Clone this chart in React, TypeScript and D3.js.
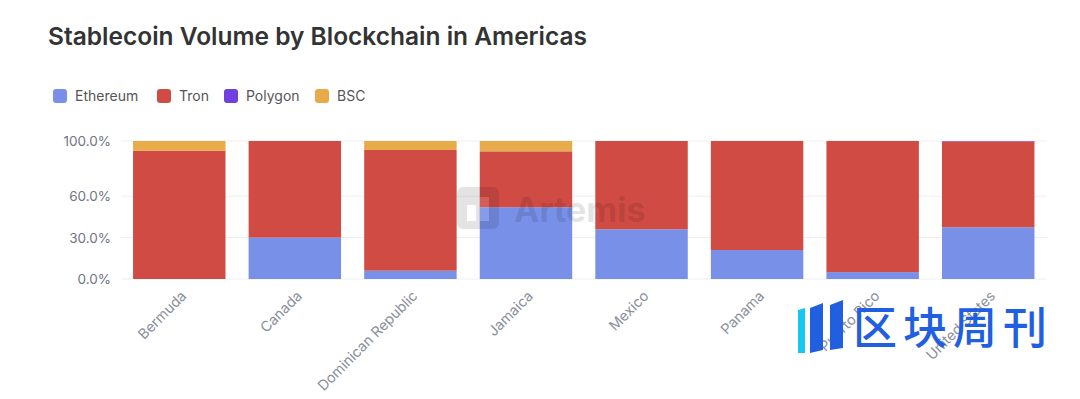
import * as d3 from "d3";

const countries = [
  "Bermuda",
  "Canada",
  "Dominican Republic",
  "Jamaica",
  "Mexico",
  "Panama",
  "Puerto Rico",
  "United States",
];
const ethereum = [0, 30, 6, 52, 36, 21, 5, 37.5];
const tron = [93, 70, 87.5, 40.5, 64, 79, 95, 62.2];
const polygon = [0, 0, 0, 0, 0, 0, 0, 0.3];
const bsc = [7, 0, 6.5, 7.5, 0, 0, 0, 0];

const keys = ["Ethereum", "Tron", "Polygon", "BSC"];
const colors = ["#7890e8", "#d14b45", "#7040e0", "#e8ab4a"];
const yTicks = [0, 30, 60, 100];

const rows = countries.map((c, i) => ({
  country: c,
  Ethereum: ethereum[i],
  Tron: tron[i],
  Polygon: polygon[i],
  BSC: bsc[i],
}));

const font = "Inter, 'Noto Sans', sans-serif";

export default function App() {
  const x = d3
    .scaleBand()
    .domain(countries)
    .range([121.5, 1046])
    .paddingInner(0.2)
    .paddingOuter(0.1);
  const y = d3.scaleLinear().domain([0, 100]).range([279, 141]);
  const color = d3.scaleOrdinal<string, string>().domain(keys).range(colors);
  // @ts-ignore
  const series = d3.stack().keys(keys)(rows);

  // legend swatch positions
  const legendX = [53, 157, 224, 315];

  return (
    <svg
      width={1080}
      height={399}
      style={{ position: "absolute", left: 0, top: 0, background: "#fff" }}
      fontFamily={font}
    >
      <text x={48} y={45} fontSize={24.5} fontWeight={600} fill="#333">
        Stablecoin Volume by Blockchain in Americas
      </text>

      {keys.map((k, i) => (
        <g key={k} transform={`translate(${legendX[i]},89)`}>
          <rect width={14} height={14} rx={3} fill={color(k)} />
          <text x={22} y={12} fontSize={14} fill="#555">
            {k}
          </text>
        </g>
      ))}

      {yTicks.map((t) => (
        <g key={t}>
          <line x1={121} x2={1047} y1={y(t)} y2={y(t)} stroke="#eceef2" />
          <text
            x={111}
            y={y(t) + 5}
            fontSize={13.5}
            fill="#6f7585"
            textAnchor="end"
          >
            {t.toFixed(1) + "%"}
          </text>
        </g>
      ))}

      {series.map((s: any) => (
        <g key={s.key} fill={color(s.key)}>
          {s.map((d: any) =>
            d[1] - d[0] > 0 ? (
              <rect
                key={d.data.country}
                x={x(d.data.country)}
                y={y(d[1])}
                width={x.bandwidth()}
                height={y(d[0]) - y(d[1])}
              />
            ) : null
          )}
        </g>
      ))}

      {countries.map((c) => (
        <text
          key={c}
          transform={`translate(${(x(c) ?? 0) + x.bandwidth() / 2 + 8},297) rotate(-45)`}
          textAnchor="end"
          fontSize={14.3}
          fill="#8a8f9c"
        >
          {c}
        </text>
      ))}

      {/* Artemis watermark */}
      <g opacity={0.1}>
        <rect x={457} y={187} width={42} height={42} rx={6} fill="#000" />
        <rect x={467} y={205} width={9} height={16} fill="#fff" />
        <rect x={480} y={197} width={9} height={24} fill="#fff" />
        <text x={514} y={222} fontSize={34} fontWeight={700} fill="#000">
          Artemis
        </text>
      </g>

      {/* 区块周刊 logo */}
      <g>
        <polygon points="798,310 805,308 805,353 798,353" fill="#16c8f0" />
        <polygon points="810,308 823,303 823,350 810,353" fill="#1f5fe0" />
        <polygon points="830,305 843,300 843,348 830,350" fill="#1f5fe0" />
        <text
          x={853}
          y={344}
          fontSize={44}
          fontWeight={500}
          letterSpacing={6}
          fill="#1f5fe0"
          fontFamily="'Noto Sans CJK SC', sans-serif"
        >
          区块周刊
        </text>
      </g>
    </svg>
  );
}
